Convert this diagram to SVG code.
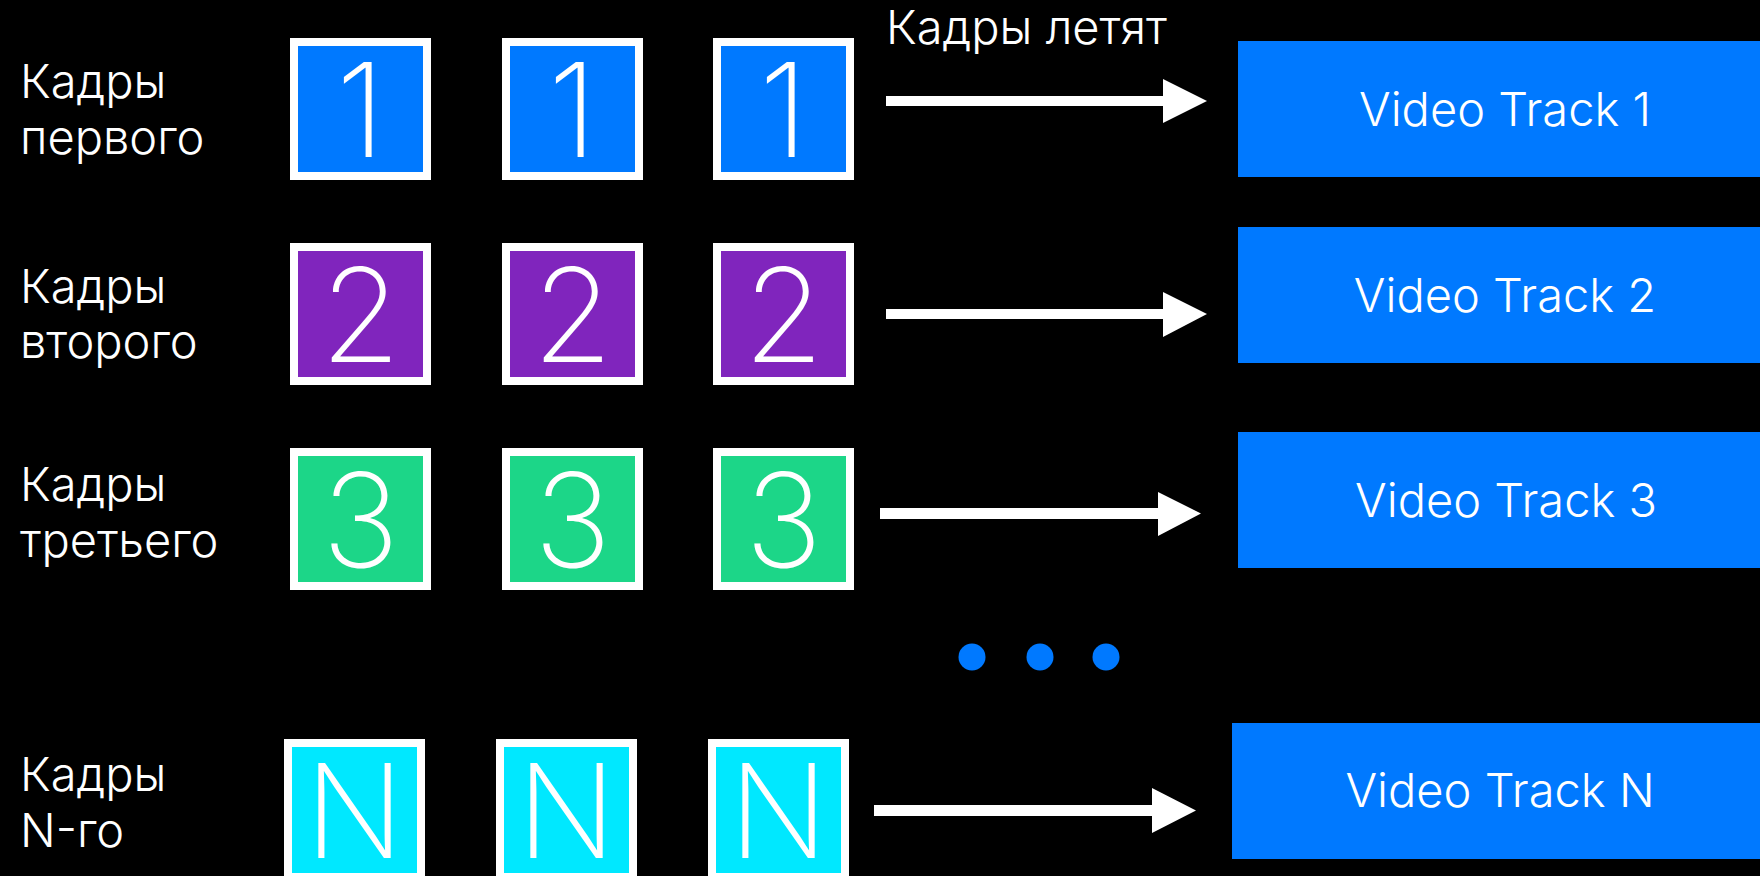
<svg xmlns="http://www.w3.org/2000/svg" width="1760" height="876" viewBox="0 0 1760 876">
<style>
.bg{fill:#000}
.frame{stroke:#fff;stroke-width:8}
.c1{fill:#0079FF}.c2{fill:#8025BD}.c3{fill:#1CD688}.cn{fill:#00E8FF}
.digit{font-family:Inter,"Liberation Sans",sans-serif;font-weight:200;font-size:130px;fill:#fff;text-anchor:middle}
.lbl{font-family:Inter,"Liberation Sans",sans-serif;font-weight:300;font-size:47px;fill:#fff}
.track{fill:#0079FF}
.tt{font-family:Inter,"Liberation Sans",sans-serif;font-weight:300;font-size:47px;fill:#fff;text-anchor:middle}
.shaft{fill:#fff}
.dot{fill:#0079FF}
</style>
<rect class="bg" x="0" y="0" width="1760" height="876"/>

<g id="label-title"><text class="lbl" x="886" y="44">Кадры летят</text></g>

<g id="row1-label"><text class="lbl" x="20" y="98">Кадры</text><text class="lbl" x="20" y="154">первого</text></g>
<g id="row2-label"><text class="lbl" x="20" y="303">Кадры</text><text class="lbl" x="20" y="358">второго</text></g>
<g id="row3-label"><text class="lbl" x="20" y="501">Кадры</text><text class="lbl" x="20" y="557">третьего</text></g>
<g id="rowN-label"><text class="lbl" x="20" y="791">Кадры</text><text class="lbl" x="20" y="847">N-го</text></g>

<g id="frames-1">
<rect class="frame c1" x="294" y="42" width="133" height="134"/><text class="digit" x="360.5" y="157">1</text>
<rect class="frame c1" x="506" y="42" width="133" height="134"/><text class="digit" x="572.5" y="157">1</text>
<rect class="frame c1" x="717" y="42" width="133" height="134"/><text class="digit" x="783.5" y="157">1</text>
</g>
<g id="frames-2">
<rect class="frame c2" x="294" y="247" width="133" height="134"/><text class="digit" x="360.5" y="362">2</text>
<rect class="frame c2" x="506" y="247" width="133" height="134"/><text class="digit" x="572.5" y="362">2</text>
<rect class="frame c2" x="717" y="247" width="133" height="134"/><text class="digit" x="783.5" y="362">2</text>
</g>
<g id="frames-3">
<rect class="frame c3" x="294" y="452" width="133" height="134"/><text class="digit" x="360.5" y="567">3</text>
<rect class="frame c3" x="506" y="452" width="133" height="134"/><text class="digit" x="572.5" y="567">3</text>
<rect class="frame c3" x="717" y="452" width="133" height="134"/><text class="digit" x="783.5" y="567">3</text>
</g>
<g id="frames-N">
<rect class="frame cn" x="288" y="743" width="133" height="134"/><text class="digit" x="354.5" y="858">N</text>
<rect class="frame cn" x="500" y="743" width="133" height="134"/><text class="digit" x="566.5" y="858">N</text>
<rect class="frame cn" x="712" y="743" width="133" height="134"/><text class="digit" x="778.5" y="858">N</text>
</g>

<g id="connectors">
<path class="shaft" d="M886 96 H1163 V79 L1207 101 L1163 123 V106 H886 Z"/>
<path class="shaft" d="M886 309 H1163 V292 L1207 314 L1163 337 V319 H886 Z"/>
<path class="shaft" d="M880 508 H1158 V492 L1201 513.5 L1158 536 V519 H880 Z"/>
<path class="shaft" d="M874 805 H1152 V788 L1196 810.5 L1152 833 V816 H874 Z"/>
</g>

<g id="track1"><rect class="track" x="1238" y="41" width="530" height="136"/><text class="tt" x="1505" y="126">Video Track 1</text></g>
<g id="track2"><rect class="track" x="1238" y="227" width="530" height="136"/><text class="tt" x="1505" y="312">Video Track 2</text></g>
<g id="track3"><rect class="track" x="1238" y="432" width="530" height="136"/><text class="tt" x="1506" y="517">Video Track 3</text></g>
<g id="trackN"><rect class="track" x="1232" y="723" width="536" height="136"/><text class="tt" x="1500" y="807">Video Track N</text></g>

<g id="ellipsis">
<circle class="dot" cx="972" cy="657" r="13.5"/>
<circle class="dot" cx="1040" cy="657" r="13.5"/>
<circle class="dot" cx="1106" cy="657" r="13.5"/>
</g>
</svg>
